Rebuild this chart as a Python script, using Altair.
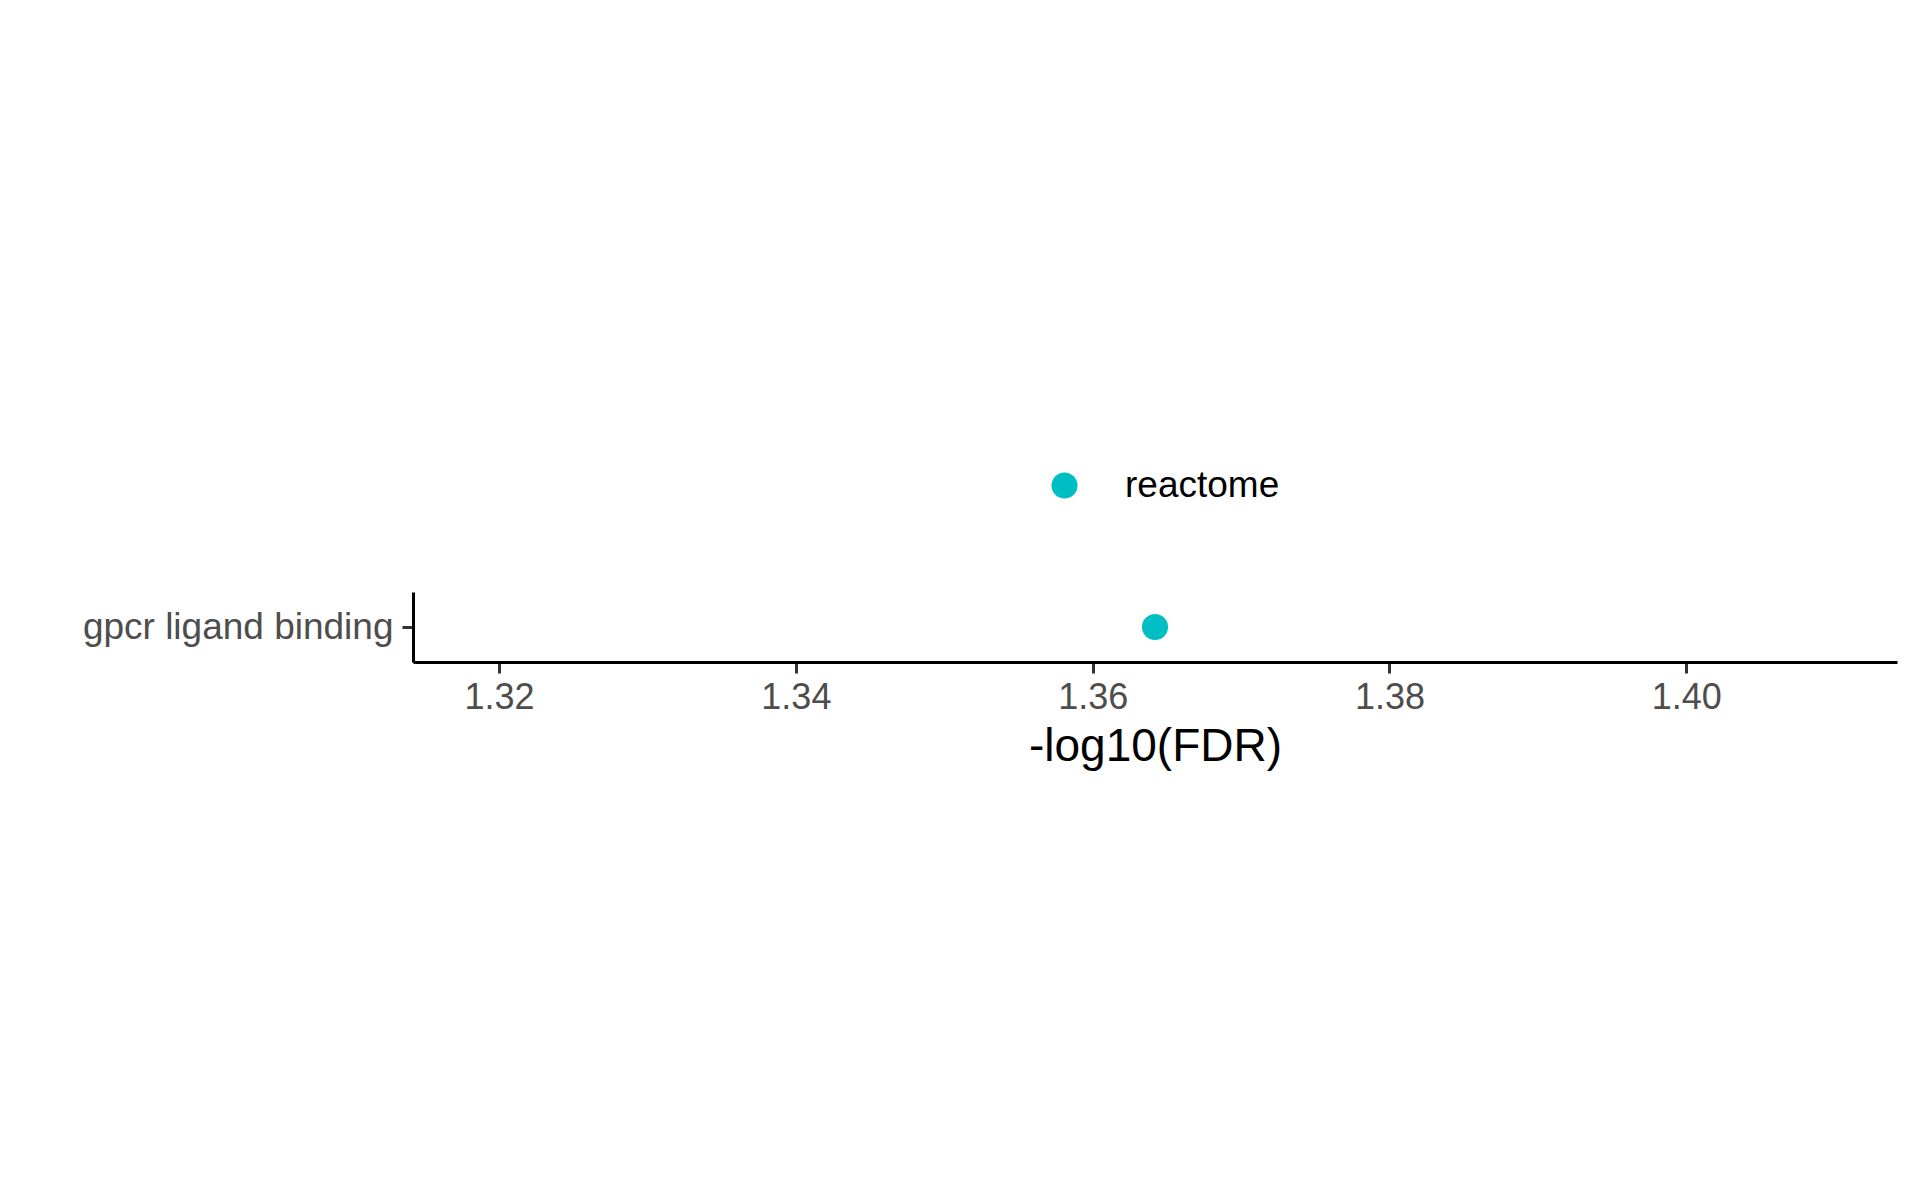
import altair as alt
import pandas as pd

pathways = ["gpcr ligand binding"]
neg_log10_fdr = [1.3642]
sources = ["reactome"]
x_domain = [1.3142, 1.4142]
x_ticks = [1.32, 1.34, 1.36, 1.38, 1.40]

df = pd.DataFrame({"pathway": pathways, "value": neg_log10_fdr, "source": sources})

FONT = "Liberation Sans"

chart = alt.Chart(df).mark_point(filled=True, opacity=1, size=680, strokeWidth=0).encode(
    x=alt.X("value:Q", title="-log10(FDR)",
            scale=alt.Scale(domain=x_domain, nice=False, zero=False),
            axis=alt.Axis(values=x_ticks, format=".2f", labelPadding=7, titlePadding=9,
                          titleFontSize=46, titleFontWeight="normal", titleColor="black")),
    y=alt.Y("pathway:N", title=None,
            axis=alt.Axis(labelPadding=9, labelLimit=0, labelFontSize=37)),
    color=alt.Color("source:N", scale=alt.Scale(range=["#00BFC4"]),
                    legend=alt.Legend(orient="none", legendX=633, legendY=-125, title=None,
                                      symbolSize=680, symbolType="circle", symbolStrokeWidth=0,
                                      labelFontSize=37, labelFont=FONT, labelColor="black",
                                      labelOffset=42, padding=0)),
).properties(
    width=1484, height=70,
    autosize=alt.AutoSizeParams(type="none"),
    padding={"left": 413, "top": 592, "right": 23, "bottom": 538},
).configure(font=FONT).configure_view(stroke=None).configure_axis(
    grid=False, domainColor="black", domainWidth=3,
    tickColor="#333333", tickWidth=3, tickSize=11,
    labelColor="#4D4D4D", labelFontSize=36, labelFont=FONT, titleFont=FONT,
)

chart.save("out.html", embed_options={"renderer": "svg", "actions": False})
